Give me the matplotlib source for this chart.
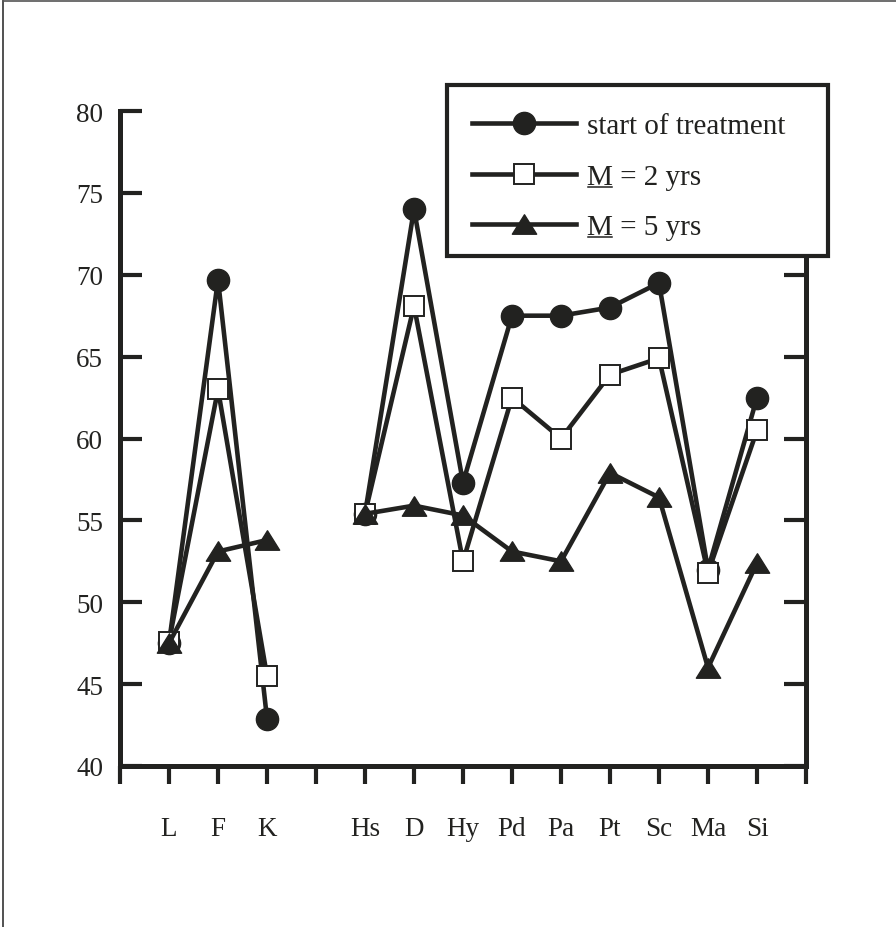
import numpy as np
import matplotlib
matplotlib.use('Agg')
import matplotlib.pyplot as plt
from matplotlib.lines import Line2D
from matplotlib.patches import Rectangle
from matplotlib.path import Path
from matplotlib.transforms import IdentityTransform

# ---------------- data ----------------
scales = ['L', 'F', 'K', '', 'Hs', 'D', 'Hy', 'Pd', 'Pa', 'Pt', 'Sc', 'Ma', 'Si']
start_treatment = [47.5, 69.7, 42.9, np.nan, 55.4, 74.0, 57.3, 67.5, 67.5, 68.0, 69.5, 52.0, 62.5]
m_2yrs = [47.6, 63.0, 45.5, np.nan, 55.4, 68.1, 52.5, 62.5, 60.0, 63.9, 64.9, 51.8, 60.5]
m_5yrs = [47.5, 53.1, 53.8, np.nan, 55.4, 55.9, 55.3, 53.1, 52.5, 57.9, 56.4, 46.0, 52.4]
legend_labels = ['start of treatment', 'M = 2 yrs', 'M = 5 yrs']
yticks = [40, 45, 50, 55, 60, 65, 70, 75, 80]

# ---------------- style ----------------
plt.rcParams['font.family'] = ['Liberation Serif', 'DejaVu Serif']
INK = '#222220'
W, H = 896, 928

def fx(px):
    return px / W

def fy(py):
    return 1 - py / H

fig = plt.figure(figsize=(W / 100, H / 100), dpi=100)
fig.patch.set_facecolor('white')
ax = fig.add_axes([fx(120), fy(767), fx(806) - fx(120), fy(112) - fy(767)])

x = np.arange(1, len(scales) + 1)
tri = Path([(0, 0.8), (-1, -0.8), (1, -0.8), (0, 0.8)],
           [Path.MOVETO, Path.LINETO, Path.LINETO, Path.CLOSEPOLY])

styles = [
    dict(marker='o', ms=16, mfc=INK, mec=INK, mew=1),
    dict(marker='s', ms=15, mfc='white', mec=INK, mew=1.4),
    dict(marker=tri, ms=17.5, mfc=INK, mec=INK, mew=1),
]
for vals, st in zip([start_treatment, m_2yrs, m_5yrs], styles):
    ax.plot(x, vals, color=INK, lw=3.3, clip_on=False, zorder=3, **st)

ax.set_xlim(0, len(scales) + 1)
ax.set_ylim(yticks[0], yticks[-1])
ax.set_xticks(np.arange(0, len(scales) + 2))
ax.set_xticklabels([''] + scales + [''])
ax.set_yticks(yticks)
ax.set_yticklabels([str(v) for v in yticks])

for side in ['left', 'bottom', 'right']:
    ax.spines[side].set_linewidth(3.6)
    ax.spines[side].set_color(INK)
ax.spines['top'].set_visible(False)

ax.tick_params(axis='y', which='both', direction='in', length=16, width=3,
               left=True, right=True, labelleft=True, labelright=False,
               pad=12, labelsize=19.5, colors=INK)
ax.tick_params(axis='x', which='both', direction='out', length=13, width=3,
               pad=23, labelsize=19.5, colors=INK)

# ---------------- legend (boxed, drawn over the axes) ----------------
box = Rectangle((fx(447), fy(257)), fx(828) - fx(447), fy(86) - fy(257),
                transform=fig.transFigure, facecolor='white', edgecolor=INK,
                lw=3, zorder=10)
fig.add_artist(box)

row_y = [124, 175, 225]
texts = []
for lab, st, ry in zip(legend_labels, styles, row_y):
    ln = Line2D([fx(472), fx(524), fx(576)], [fy(ry)] * 3, color=INK, lw=3.3,
                markevery=[1], transform=fig.transFigure, zorder=11, **st)
    fig.add_artist(ln)
    t = fig.text(fx(587), fy(ry + 10), lab, fontsize=21, color=INK,
                 va='baseline', ha='left', zorder=11)
    texts.append(t)

# underline the "M"
fig.canvas.draw()
renderer = fig.canvas.get_renderer()
for t in texts[1:]:
    bb = t.get_window_extent(renderer)
    wM, hM, dM = renderer.get_text_width_height_descent('M', t.get_fontproperties(), ismath=False)
    bx, by = t.get_transform().transform(t.get_position())
    ul = Line2D([bb.x0 + 0.5, bb.x0 + wM - 0.5], [by - 2.5, by - 2.5], color=INK, lw=1.1,
                transform=IdentityTransform(), zorder=11)
    fig.add_artist(ul)

# figure frame (top and left edges)
fig.add_artist(Line2D([fx(3), fx(3)], [0, fy(2)], color='#333333', lw=1.2,
                      transform=fig.transFigure))
fig.add_artist(Line2D([fx(3), 1], [fy(2), fy(2)], color='#555555', lw=1.2,
                      transform=fig.transFigure))

fig.savefig('out.png', dpi=100, facecolor='white')
